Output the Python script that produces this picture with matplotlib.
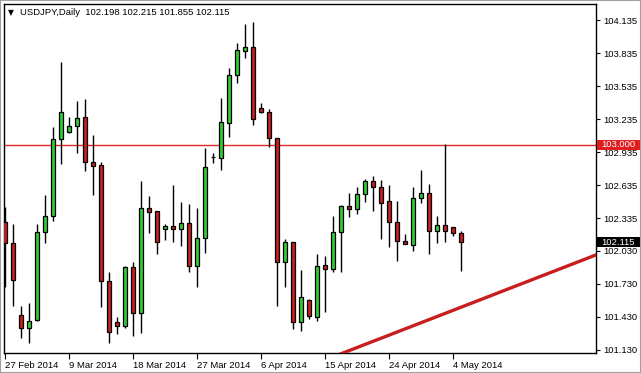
import matplotlib
matplotlib.use("Agg")
import matplotlib.pyplot as plt
import matplotlib.transforms as mtransforms
from matplotlib.patches import Rectangle
import numpy as np

plt.rcParams['font.family'] = ['Liberation Sans', 'DejaVu Sans']

# ---- data ----
opens = [102.296, 102.105, 101.453, 101.332, 101.408, 102.205, 102.350, 103.050, 103.120, 103.168,
         103.250, 102.841, 102.814, 101.765, 101.387, 101.353, 101.887, 101.468, 102.423, 102.396,
         102.232, 102.262, 102.232, 102.287, 101.902, 102.150, 102.892, 102.884, 103.202, 103.632,
         103.856, 103.887, 103.332, 103.302, 103.059, 101.938, 102.114, 101.387, 101.590, 101.438,
         101.905, 101.868, 102.205, 102.441, 102.420, 102.550, 102.668, 102.614, 102.487, 102.299,
         102.126, 102.087, 102.514, 102.562, 102.214, 102.268, 102.250, 102.198]
highs = [102.432, 102.281, 101.535, 101.559, 102.278, 102.544, 103.159, 103.750, 103.250, 103.399,
         103.417, 103.087, 102.847, 101.841, 101.432, 101.902, 101.932, 102.671, 102.535, 102.402,
         102.278, 102.635, 102.481, 102.462, 102.426, 102.971, 102.929, 103.423, 103.696, 103.923,
         104.099, 104.117, 103.378, 103.323, 103.060, 102.147, 102.120, 101.862, 101.596, 102.005,
         101.987, 102.353, 102.450, 102.559, 102.614, 102.693, 102.717, 102.681, 102.638, 102.490,
         102.190, 102.620, 102.771, 102.644, 102.353, 103.005, 102.253, 102.215]
lows = [101.711, 101.535, 101.247, 101.196, 101.400, 102.105, 102.308, 102.826, 103.111, 102.923,
        102.765, 102.541, 101.529, 101.196, 101.278, 101.332, 101.265, 101.287, 102.202, 102.005,
        102.135, 102.120, 102.084, 101.847, 101.711, 102.020, 102.838, 102.771, 103.074, 103.565,
        103.793, 103.184, 103.293, 102.978, 101.538, 101.705, 101.323, 101.311, 101.414, 101.402,
        101.484, 101.847, 101.847, 102.347, 102.371, 102.481, 102.399, 102.147, 102.074, 101.947,
        102.096, 102.038, 102.468, 102.008, 102.111, 102.120, 102.174, 101.855]
closes = [102.105, 101.771, 101.332, 101.402, 102.205, 102.350, 103.050, 103.296, 103.168, 103.241,
          102.841, 102.811, 101.765, 101.296, 101.350, 101.887, 101.468, 102.423, 102.393, 102.114,
          102.259, 102.232, 102.287, 101.902, 102.150, 102.799, 102.888, 103.205, 103.635, 103.859,
          103.887, 103.238, 103.302, 103.059, 101.938, 102.114, 101.387, 101.614, 101.441, 101.902,
          101.868, 102.205, 102.441, 102.420, 102.553, 102.668, 102.614, 102.474, 102.296, 102.123,
          102.096, 102.514, 102.562, 102.214, 102.268, 102.214, 102.196, 102.115]

date_labels = ["27 Feb 2014", "9 Mar 2014", "18 Mar 2014", "27 Mar 2014",
               "6 Apr 2014", "15 Apr 2014", "24 Apr 2014", "4 May 2014"]
label_every = 8

ytick_values = [104.135, 103.835, 103.535, 103.235, 102.935, 102.635, 102.335, 102.035,
                101.735, 101.435, 101.135]
ytick_labels = ["104.135", "103.835", "103.535", "103.235", "102.935", "102.635", "102.335",
                "102.030", "101.730", "101.430", "101.130"]

resistance = 103.000
trend_bars = [38, 74]
trend_prices = [100.988, 102.003]

header = "USDJPY,Daily  102.198 102.215 101.855 102.115"

FS = 6.8

# ---- figure ----
W, H = 641, 373
fig = plt.figure(figsize=(W / 100, H / 100), dpi=100, facecolor="white")
ax = fig.add_axes([4 / W, 20 / H, 592 / W, 349 / H])
ax.set_facecolor("white")

o = np.array(opens); h = np.array(highs); l = np.array(lows); c = np.array(closes)
x = np.arange(len(o))
up = c >= o
bull = "#32cd32"
bear = "#c81e1e"

ax.vlines(x, l, h, color="black", linewidth=1.0, zorder=2)
bottoms = np.minimum(o, c)
heights = np.abs(c - o)
ax.bar(x[up], heights[up], bottom=bottoms[up], width=0.62, color=bull,
       edgecolor="black", linewidth=0.9, zorder=3)
ax.bar(x[~up], heights[~up], bottom=bottoms[~up], width=0.62, color=bear,
       edgecolor="black", linewidth=0.9, zorder=3)

ax.axhline(resistance, color="#dc2828", linewidth=1.0, zorder=1)
ax.plot(trend_bars, trend_prices, color="#c81e1e", linewidth=2.4, zorder=4,
        solid_capstyle="butt")

ax.set_xlim(-0.125, 73.875)
ax.set_ylim(101.1077, 104.2805)

for s in ax.spines.values():
    s.set_color("black")
    s.set_linewidth(1.0)

ax.yaxis.tick_right()
ax.set_yticks(ytick_values)
ax.set_yticklabels(ytick_labels)
ax.tick_params(axis="y", direction="out", length=3, width=0.8, pad=2.5,
               labelsize=FS, colors="black")

xt = np.arange(0, len(date_labels) * label_every, label_every)
ax.set_xticks(xt)
ax.set_xticklabels(date_labels, ha="left")
ax.tick_params(axis="x", direction="out", length=4, width=0.8, pad=1.5,
               labelsize=FS, colors="black")

# price boxes on the right axis
trans = mtransforms.blended_transform_factory(ax.transAxes, ax.transData)
box_h = 10 / 110.0  # price units for ~10 px
for price, fc, txt in [(resistance, "#e01e1e", "103.000"),
                       (closes[-1], "black", "102.115")]:
    ax.add_patch(Rectangle((1.002, price - box_h / 2), 0.072, box_h, transform=trans,
                           facecolor=fc, edgecolor="none", clip_on=False, zorder=9))
    ax.text(1.009, price, txt, transform=trans, ha="left", va="center",
            fontsize=FS, color="white", zorder=10, clip_on=False)

ax.text(0.007, 0.975, "\u25bc", transform=ax.transAxes, ha="left", va="center",
        fontsize=5.5, color="black", family="DejaVu Sans")
ax.text(0.027, 0.975, header, transform=ax.transAxes, ha="left", va="center",
        fontsize=FS, color="black")

fig.patches.append(plt.Rectangle((0, 0), 1, 1, transform=fig.transFigure,
                                 fill=False, edgecolor="#a0a0a0", linewidth=1.5))

fig.savefig("out.png", dpi=100, facecolor="white")
